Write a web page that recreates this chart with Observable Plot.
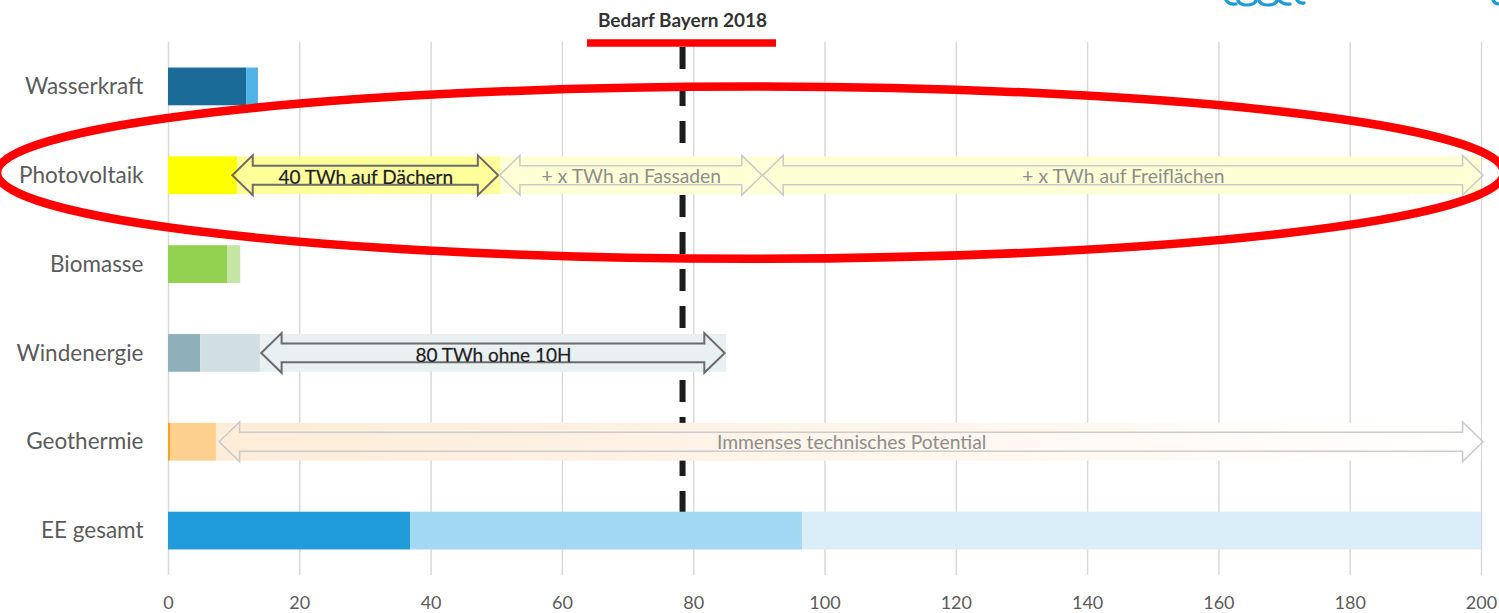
<!DOCTYPE html>
<html>
<head>
<meta charset="utf-8">
<script src="https://cdn.jsdelivr.net/npm/d3@7"></script>
<script src="https://cdn.jsdelivr.net/npm/@observablehq/plot@0.6"></script>
<style>
  html, body { margin: 0; padding: 0; background: #ffffff; }
  #chart { position: relative; width: 1499px; height: 613px; overflow: hidden; }
  #chart svg { display: block; }
  #logo { position: absolute; left: 0; top: 0; pointer-events: none; }
</style>
</head>
<body>
<div id="chart">
  <svg id="logo" width="1499" height="20">
    <g fill="none" stroke="#1a9ad6" stroke-width="3.2" stroke-linecap="round">
      <path d="M1226,0 Q1229,5 1236,4"/>
      <path d="M1238,0 A9,5 0 0 0 1256,0"/>
      <path d="M1259,0 A9,5 0 0 0 1277,0"/>
      <path d="M1279,0 Q1283,5 1290,4"/>
      <path d="M1297,0 Q1300,4 1304,3"/>
      <path d="M1493,0 Q1495,4 1499,4"/>
    </g>
  </svg>
</div>
<script>
// ---- data (TWh per year) ----
const categories = ["Wasserkraft", "Photovoltaik", "Biomasse", "Windenergie", "Geothermie", "EE gesamt"];
const current   = [11.9, 10.5, 9.0, 4.9, 0.3, 36.9];   // heutige Nutzung
const potential = [13.7, 50.6, 11.0, 14.0, 7.3, 96.6]; // Potential
const extended  = [null, 200, null, 85.0, 200, 200];   // erweitertes Potential
const bedarfBayern2018 = 78.3;
const bedarfLabel = "Bedarf Bayern 2018";
const xTicks = [0, 20, 40, 60, 80, 100, 120, 140, 160, 180, 200];

const arrowRows   = ["Photovoltaik", "Photovoltaik", "Photovoltaik", "Windenergie", "Geothermie"];
const arrowFrom   = [9.8, 50.5, 90.6, 14.2, 7.8];
const arrowTo     = [50.3, 90.5, 200.3, 84.8, 200.3];
const arrowLabels = ["40 TWh auf Dächern", "+ x TWh an Fassaden", "+ x TWh auf Freiflächen", "80 TWh ohne 10H", "Immenses technisches Potential"];
const arrowEmphasis = [true, false, false, true, false];

// ---- styles ----
const currentColors   = ["#1a6b98", "#ffff00", "#92d050", "#8fb0ba", "#f7a21b", "#209cdb"];
const potentialColors = ["#4fb3e6", "#ffff99", "#c5e5a5", "#d0dfe3", "#fdd08f", "#a3d8f2"];
const extendedColors  = [null, "#ffffd6", null, "#e9f0f2", "url(#geoFade)", "#daeef9"];

// ---- derived tables ----
const segments = categories.flatMap((row, i) => {
  const s = [
    {row, x1: 0, x2: current[i], fill: currentColors[i]},
    {row, x1: current[i], x2: potential[i], fill: potentialColors[i]}
  ];
  if (extended[i] != null) s.push({row, x1: potential[i], x2: extended[i], fill: extendedColors[i]});
  return s;
});
const arrows = arrowRows.map((row, i) => ({
  row, from: arrowFrom[i], to: arrowTo[i], label: arrowLabels[i], strong: arrowEmphasis[i]
}));

function bandwidthOf(y) {
  return typeof y.bandwidth === "function" ? y.bandwidth() : y.bandwidth;
}

// gradient definition for the fading Geothermie band
function defsMark() {
  const defs = d3.create("svg:defs");
  const lg = defs.append("linearGradient").attr("id", "geoFade").attr("x1", 0).attr("x2", 1).attr("y1", 0).attr("y2", 0);
  lg.append("stop").attr("offset", 0).attr("stop-color", "#fdecd8");
  lg.append("stop").attr("offset", 0.4).attr("stop-color", "#fef3e7");
  lg.append("stop").attr("offset", 0.75).attr("stop-color", "#fffaf5");
  lg.append("stop").attr("offset", 1).attr("stop-color", "#ffffff");
  return defs.node();
}

// double-headed block arrows
function arrowsMark(index, scales) {
  const {x, y} = scales;
  const bw = bandwidthOf(y);
  const g = d3.create("svg:g").attr("aria-label", "arrows");
  for (const a of arrows) {
    const yc = y(a.row) + bw / 2;
    const xl = x(a.from), xr = x(a.to);
    const H = bw / 2 + 1, s = bw / 4, h = bw * 0.54;
    const pts = [
      [xl, yc], [xl + h, yc - H], [xl + h, yc - s], [xr - h, yc - s], [xr - h, yc - H],
      [xr, yc], [xr - h, yc + H], [xr - h, yc + s], [xl + h, yc + s], [xl + h, yc + H]
    ];
    g.append("path")
      .attr("d", "M" + pts.map(p => p.join(",")).join("L") + "Z")
      .attr("fill", "none")
      .attr("stroke", a.strong ? "#6b6b6b" : "#cbcbcb")
      .attr("stroke-width", a.strong ? 2 : 1.6)
      .attr("stroke-linejoin", "miter");
  }
  return g.node();
}

// red highlight annotations: ellipse around PV row, underline below the demand label
function highlightMark(index, scales, values, dims) {
  const {x, y} = scales;
  const bw = bandwidthOf(y);
  const g = d3.create("svg:g").attr("aria-label", "highlight");
  g.append("ellipse")
    .attr("cx", dims.width / 2 + 1)
    .attr("cy", y("Photovoltaik") + bw / 2 - 2.6)
    .attr("rx", dims.width / 2 + 4)
    .attr("ry", bw * 2.28)
    .attr("fill", "none")
    .attr("stroke", "#ff0000")
    .attr("stroke-width", 8.5);
  const xb = x(bedarfBayern2018);
  g.append("line")
    .attr("x1", xb - 95).attr("x2", xb + 94)
    .attr("y1", dims.marginTop + 1).attr("y2", dims.marginTop + 1)
    .attr("stroke", "#ff0000")
    .attr("stroke-width", 7.5);
  return g.node();
}

const chart = Plot.plot({
  width: 1499,
  height: 613,
  marginLeft: 168,
  marginRight: 18,
  marginTop: 42,
  marginBottom: 38,
  style: {fontFamily: "Lato, 'Open Sans', sans-serif", background: "#ffffff", overflow: "visible"},
  x: {domain: [0, 200], axis: null},
  y: {domain: categories, axis: null, paddingInner: 0.575, paddingOuter: 0.2875, round: false},
  color: {type: "identity"},
  marks: [
    defsMark,
    Plot.ruleX(xTicks, {x: d => d, stroke: "#d9d9d9", strokeWidth: 1.5}),
    Plot.ruleX([bedarfBayern2018], {x: d => d, stroke: "#1c1c1c", strokeWidth: 6, strokeDasharray: "22,15", insetTop: 5, insetBottom: 63}),
    Plot.barX(segments, {x1: "x1", x2: "x2", y: "row", fill: "fill"}),
    arrowsMark,
    Plot.text(arrows.filter(a => a.strong), {
      x: a => (a.from + a.to) / 2, y: "row", text: "label", dy: 2,
      fill: "#202020", stroke: "#8a8a8a", strokeWidth: 0.35, fontSize: 19
    }),
    Plot.text(arrows.filter(a => !a.strong), {
      x: a => (a.from + a.to) / 2, y: "row", text: "label", dy: 1,
      fill: "#8d8d8d", fontSize: 19.3
    }),
    Plot.text(categories, {
      y: d => d, text: d => d, frameAnchor: "left", dx: -25, textAnchor: "end",
      fill: "#5b5b5b", fontSize: 22.5
    }),
    Plot.text(xTicks, {
      x: d => d, text: d => String(d), frameAnchor: "bottom", lineAnchor: "middle", dy: 28,
      fill: "#5b5b5b", fontSize: 18
    }),
    Plot.text([bedarfBayern2018], {
      x: d => d, text: () => bedarfLabel, frameAnchor: "top", lineAnchor: "middle", dy: -22,
      fill: "#333333", fontSize: 19, fontWeight: "bold"
    }),
    highlightMark
  ]
});

document.getElementById("chart").prepend(chart);
</script>
</body>
</html>
